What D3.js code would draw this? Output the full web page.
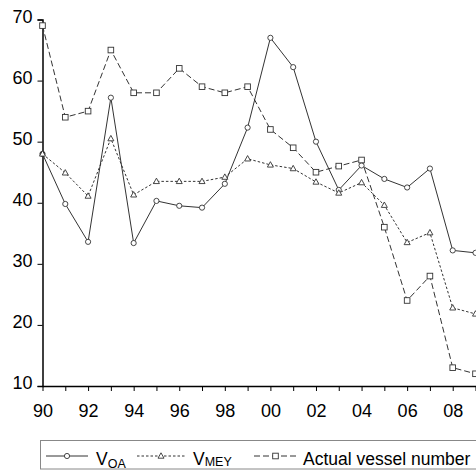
<!DOCTYPE html>
<html><head><meta charset="utf-8">
<script src="https://cdn.jsdelivr.net/npm/d3@7"></script>
<style>body{margin:0;background:#fff}svg{display:block;font-family:"Liberation Sans",Arial,sans-serif}</style>
</head><body><svg id="c" width="476" height="472"></svg>
<script>
const years = [1990,1991,1992,1993,1994,1995,1996,1997,1998,1999,2000,2001,2002,2003,2004,2005,2006,2007,2008,2009];
const vOA   = [48,39.8,33.6,57.2,33.4,40.3,39.5,39.2,43.1,52.3,67,62.2,50,42.1,46.1,43.9,42.5,45.6,32.2,31.8];
const vMEY  = [48,44.9,41.1,50.5,41.3,43.5,43.5,43.5,44.2,47.2,46.2,45.6,43.4,41.6,43.3,39.6,33.5,35.1,22.8,21.8];
const actual= [69,54,55,65,58,58,62,59,58,59,52,49,45,46,47,36,24,28,13,12];
const yTicks = [10,20,30,40,50,60,70];
const xLabelYears = [1990,1992,1994,1996,1998,2000,2002,2004,2006,2008];

const svg = d3.select("#c");
const x = d3.scaleLinear().domain([1990,2009]).range([42.5,475.5]);
const y = d3.scaleLinear().domain([10,70]).range([386,19.5]);
const col = "#333";

// axes
const yAxis = d3.axisLeft(y).tickValues(yTicks).tickSize(5).tickPadding(5).tickFormat(d3.format("d"));
const gy = svg.append("g").attr("transform","translate(42.5,0)").call(yAxis);
gy.select(".domain").attr("stroke","#000").attr("stroke-width",1.5);
gy.selectAll(".tick line").attr("stroke","#000");
gy.selectAll("text").attr("font-size",18).attr("fill","#000").attr("dy","0.15em");

const xAxis = d3.axisBottom(x).tickValues(years).tickSize(5).tickPadding(13)
  .tickFormat(d => xLabelYears.includes(d) ? String(d).slice(2) : "");
const gx = svg.append("g").attr("transform","translate(0,386)").call(xAxis);
gx.select(".domain").attr("d","M42.5,0.5H480").attr("stroke","#000").attr("stroke-width",1.5);
gx.selectAll(".tick line").attr("stroke","#000");
gx.selectAll("text").attr("font-size",18).attr("fill","#000");

const mk = arr => years.map((yr,i)=>({yr,v:arr[i]}));
const line = d3.line().x(d=>x(d.yr)).y(d=>y(d.v));

const series = [
  {data:mk(vOA), dash:null, marker:"circle"},
  {data:mk(vMEY), dash:"2.5,2", marker:"triangle"},
  {data:mk(actual), dash:"6,3", marker:"square"}
];

function drawMarker(g, type, cx, cy, fillFirst){
  if(type==="circle"){
    g.append("circle").attr("cx",cx).attr("cy",cy).attr("r",2.6)
      .attr("fill",fillFirst?col:"#fff").attr("stroke",col).attr("stroke-width",0.9);
  } else if(type==="triangle"){
    g.append("path").attr("d",`M${cx},${cy-3.2}L${cx+3},${cy+2.2}L${cx-3},${cy+2.2}Z`)
      .attr("fill","#fff").attr("stroke",col).attr("stroke-width",0.9);
  } else {
    g.append("rect").attr("x",cx-2.8).attr("y",cy-2.8).attr("width",5.6).attr("height",5.6)
      .attr("fill","#fff").attr("stroke",col).attr("stroke-width",0.9);
  }
}

series.forEach(s=>{
  svg.append("path").datum(s.data).attr("d",line).attr("fill","none")
    .attr("stroke",col).attr("stroke-width",1).attr("stroke-dasharray",s.dash);
});
series.forEach(s=>{
  const g = svg.append("g");
  s.data.forEach((d,i)=>drawMarker(g,s.marker,x(d.yr),y(d.v), s.marker==="circle" && i===0));
});

// legend
const lg = svg.append("g");
lg.append("rect").attr("x",40.5).attr("y",440.5).attr("width",445).attr("height",28.5)
  .attr("fill","#fff").attr("stroke","#888").attr("stroke-width",1);
const items = [
  {x1:46,x2:88,tx:96,dash:null,marker:"circle",main:"V",sub:"OA",subdy:3},
  {x1:137,x2:185,tx:193,dash:"2.5,2",marker:"triangle",main:"V",sub:"MEY",subdy:1},
  {x1:254,x2:297,tx:303,dash:"6,3",marker:"square",main:"Actual vessel number",sub:null}
];
const ly = 456;
items.forEach(it=>{
  lg.append("line").attr("x1",it.x1).attr("x2",it.x2).attr("y1",ly).attr("y2",ly)
    .attr("stroke",col).attr("stroke-width",1).attr("stroke-dasharray",it.dash);
  drawMarker(lg,it.marker,(it.x1+it.x2)/2,ly,false);
  const t = lg.append("text").attr("x",it.tx).attr("y",464.5).attr("font-size",17.5).attr("fill","#000");
  t.append("tspan").text(it.main);
  if(it.sub) t.append("tspan").attr("font-size",12.5).attr("dy",it.subdy).text(it.sub);
});
</script>
</body></html>
